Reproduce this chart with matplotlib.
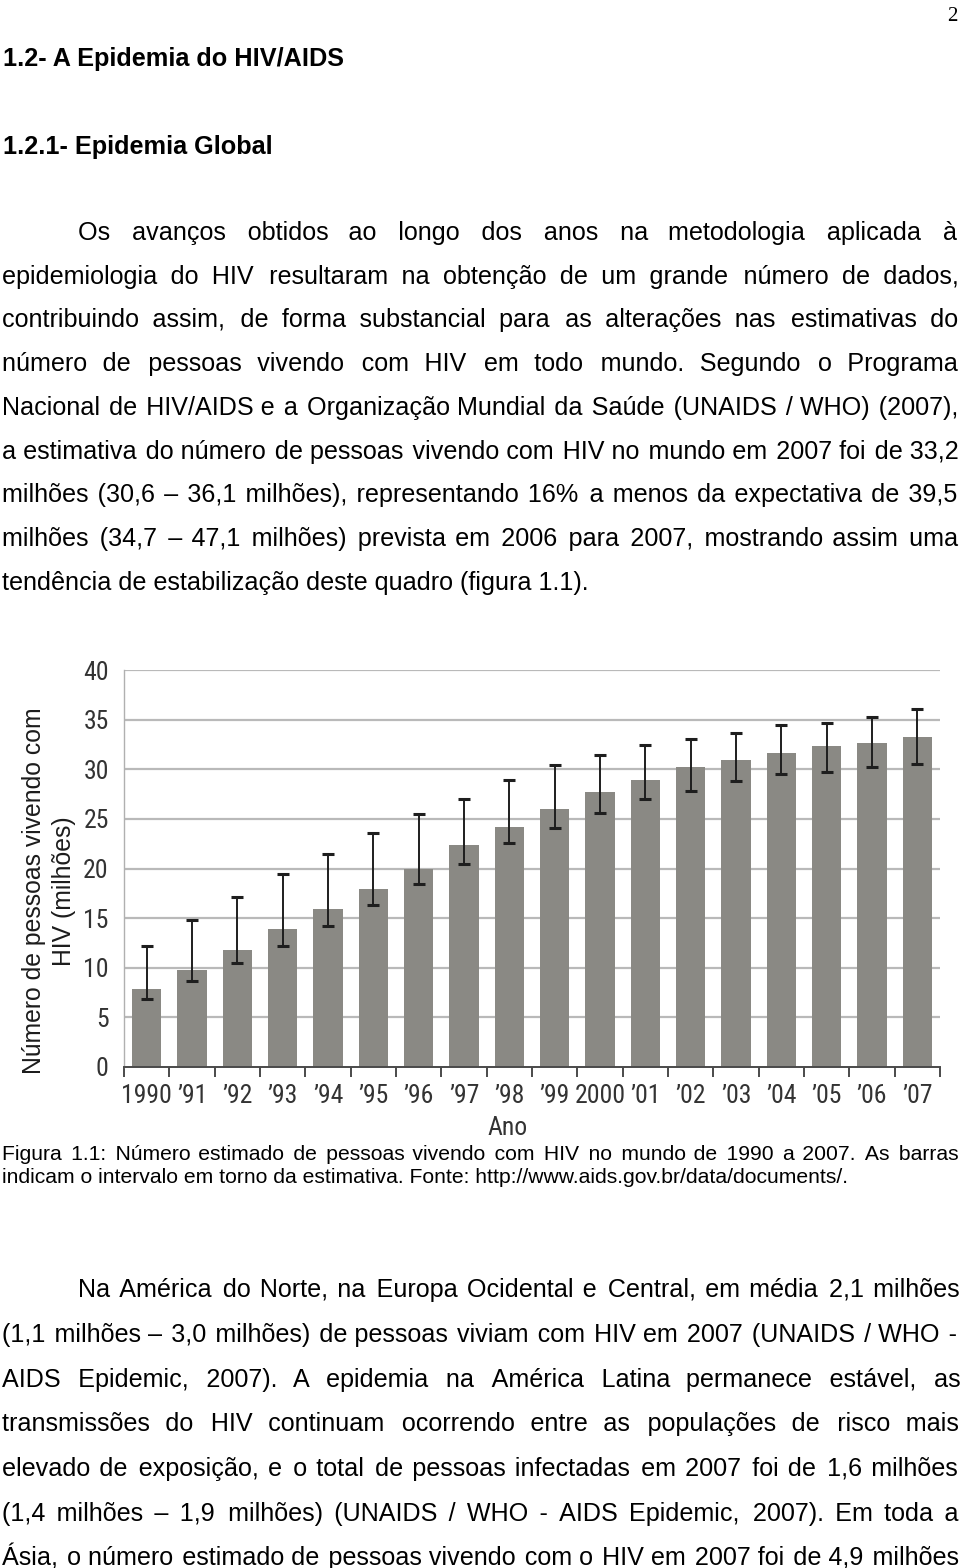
import os
import matplotlib
matplotlib.use('Agg')
import matplotlib.pyplot as plt
from matplotlib import font_manager as fm
import numpy as np

# ---------------- data ----------------
years = ['1990', '\u201991', '\u201992', '\u201993', '\u201994', '\u201995',
         '\u201996', '\u201997', '\u201998', '\u201999', '2000', '\u201901',
         '\u201902', '\u201903', '\u201904', '\u201905', '\u201906', '\u201907']
estimates = [7.85, 9.8, 11.8, 13.9, 15.9, 17.95, 20.0, 22.4, 24.2, 26.0,
             27.7, 28.9, 30.2, 30.9, 31.6, 32.3, 32.65, 33.25]
upper = [12.2, 14.85, 17.1, 19.4, 21.5, 23.6, 25.5, 27.05, 28.9, 30.4,
         31.4, 32.45, 33.0, 33.7, 34.5, 34.7, 35.3, 36.1]
lower = [6.85, 8.7, 10.5, 12.2, 14.2, 16.3, 18.4, 20.5, 22.55, 24.1,
         25.6, 27.0, 27.85, 28.8, 29.5, 29.7, 30.2, 30.5]
y_ticks = [0, 5, 10, 15, 20, 25, 30, 35, 40]

heading1 = '1.2- A Epidemia do HIV/AIDS'
heading2 = '1.2.1- Epidemia Global'
page_number = '2'
para1 = [
    'Os avanços obtidos ao longo dos anos na metodologia aplicada à',
    'epidemiologia do HIV resultaram na obtenção de um grande número de dados,',
    'contribuindo assim, de forma substancial para as alterações nas estimativas do',
    'número de pessoas vivendo com HIV em todo mundo. Segundo o Programa',
    'Nacional de HIV/AIDS e a Organização Mundial da Saúde (UNAIDS / WHO) (2007),',
    'a estimativa do número de pessoas vivendo com HIV no mundo em 2007 foi de 33,2',
    'milhões (30,6 – 36,1 milhões), representando 16% a menos da expectativa de 39,5',
    'milhões (34,7 – 47,1 milhões) prevista em 2006 para 2007, mostrando assim uma',
    'tendência de estabilização deste quadro (figura 1.1).',
]
caption = [
    'Figura 1.1: Número estimado de pessoas vivendo com HIV no mundo de 1990 a 2007. As barras',
    'indicam o intervalo em torno da estimativa. Fonte: http://www.aids.gov.br/data/documents/.',
]
para2 = [
    'Na América do Norte, na Europa Ocidental e Central, em média 2,1 milhões',
    '(1,1 milhões – 3,0 milhões) de pessoas viviam com HIV em 2007 (UNAIDS / WHO -',
    'AIDS Epidemic, 2007). A epidemia na América Latina permanece estável, as',
    'transmissões do HIV continuam ocorrendo entre as populações de risco mais',
    'elevado de exposição, e o total de pessoas infectadas em 2007 foi de 1,6 milhões',
    '(1,4 milhões – 1,9 milhões) (UNAIDS / WHO - AIDS Epidemic, 2007). Em toda a',
    'Ásia, o número estimado de pessoas vivendo com o HIV em 2007 foi de 4,9 milhões',
]
ylabel_lines = ['Número de pessoas vivendo com', 'HIV (milhões)']
xlabel = 'Ano'

# ---------------- page setup ----------------
W, H = 960, 1568
fig = plt.figure(figsize=(W / 100, H / 100), dpi=100)
fig.patch.set_facecolor('white')
renderer = fig.canvas.get_renderer()

SANS = ['Liberation Sans', 'DejaVu Sans']
SERIF = ['Liberation Serif', 'DejaVu Serif']


def pick_narrow():
    for fam in ['Liberation Sans Narrow', 'Roboto Condensed', 'DejaVu Sans',
                'Noto Sans', 'Open Sans', 'Roboto', 'Liberation Sans']:
        try:
            path = fm.findfont(fm.FontProperties(family=fam, stretch='condensed'),
                               fallback_to_default=False)
        except Exception:
            continue
        name = os.path.basename(path).lower()
        if 'narrow' in name or 'condensed' in name or 'cond' in name:
            return path
    return None


NARROW_PATH = pick_narrow()


def narrow_fp(size):
    if NARROW_PATH:
        return fm.FontProperties(fname=NARROW_PATH, size=size)
    return fm.FontProperties(family=['Roboto', 'DejaVu Sans'], size=size * 0.8)


def fx(x):
    return x / W


def fy(y):
    return 1 - y / H


def measure(s, size, **kw):
    t = fig.text(0, 0, s, fontsize=size, **kw)
    w = t.get_window_extent(renderer).width
    t.remove()
    return w


def fit_size(s, target, **kw):
    return 10 * target / measure(s, 10, **kw)


def space_unit(size, **kw):
    # smallest positive-width space glyph available, for fine justification
    base = measure('aa', size, **kw)
    best = None
    for ch in ['\u200a', '\u2009', '\u2006', '\u2005']:
        w = (measure('a' + ch * 20 + 'a', size, **kw) - base) / 20
        if w > 0.3 and (best is None or w < best[1]):
            best = (ch, w)
    return best


def justify_string(s, x0, x1, size, **kw):
    words = s.split(' ')
    if len(words) < 2:
        return s
    unit = space_unit(size, **kw)
    if unit is None:
        return s
    ch, uw = unit
    natural = measure(s, size, **kw)
    extra = (x1 - x0) - natural
    n = len(words) - 1
    N = max(0, int(round(extra / uw)))
    out = words[0]
    for i, w in enumerate(words[1:]):
        k = int(round((i + 1) * N / n)) - int(round(i * N / n))
        out += ' ' + ch * k + w
    return out


def draw_line(s, x0, x1, y, size, justify, color='black', **kw):
    if justify:
        s = justify_string(s, x0, x1, size, **kw)
    fig.text(fx(x0), fy(y), s, fontsize=size, ha='left', va='baseline',
             color=color, **kw)


# headings
hsize = fit_size(heading1, 340, family=SANS, fontweight='bold')
draw_line(heading1, 3, 343, 66, hsize, False, family=SANS, fontweight='bold')
draw_line(heading2, 3, 343, 154, hsize, False, family=SANS, fontweight='bold')

# page number
fig.text(fx(957), fy(21), page_number, fontsize=15, family=SERIF,
         ha='right', va='baseline')

# body paragraph 1
bsize = fit_size(para1[-1], 588, family=SANS)
LEFT, RIGHT, INDENT = 2, 958, 78
for i, line in enumerate(para1):
    x0 = INDENT if i == 0 else LEFT
    draw_line(line, x0, RIGHT, 240 + i * 43.7, bsize,
              i < len(para1) - 1, family=SANS)

# caption
csize = fit_size(caption[1], 850, family=SANS)
draw_line(caption[0], LEFT, RIGHT, 1160, csize, True, family=SANS)
draw_line(caption[1], LEFT, RIGHT, 1183, csize, False, family=SANS)

# body paragraph 2 (continues past page bottom -> all justified)
for i, line in enumerate(para2):
    x0 = INDENT if i == 0 else LEFT
    draw_line(line, x0, RIGHT, 1297.5 + i * 44.6, bsize, True, family=SANS)

# ---------------- chart ----------------
ax_l, ax_r, ax_t, ax_b = 124, 940, 670, 1067
ax = fig.add_axes([fx(ax_l), fy(ax_b), (ax_r - ax_l) / W, (ax_b - ax_t) / H])
ax.set_facecolor('white')

x = np.arange(len(years))
est = np.array(estimates)
yerr = [est - np.array(lower), np.array(upper) - est]

ax.bar(x, est, width=0.64, color='#8a8984', zorder=2)
ax.errorbar(x, est, yerr=yerr, fmt='none', ecolor='#1e1e1e', elinewidth=1.4,
            capsize=4.3, capthick=2.2, zorder=3)

ax.set_xlim(-0.5, len(years) - 0.5)
ax.set_ylim(0, 40)

for v in y_ticks[1:]:
    ax.axhline(v, color='#b9b9b9', lw=1.6, zorder=1)

for s in ['top', 'right']:
    ax.spines[s].set_visible(False)
ax.spines['left'].set_color('#b0b0b0')
ax.spines['left'].set_linewidth(1.0)
ax.spines['bottom'].set_color('#4a4a4a')
ax.spines['bottom'].set_linewidth(1.4)

tick_size = 18.5
tfp = narrow_fp(tick_size)
ax.set_yticks(y_ticks)
ax.set_yticklabels([str(v) for v in y_ticks], fontproperties=tfp,
                   color='#333333')
ax.tick_params(axis='y', length=0, pad=11)

ax.set_xticks(np.arange(len(years) + 1) - 0.5)
ax.set_xticklabels([''] * (len(years) + 1))
ax.tick_params(axis='x', which='major', direction='out', length=7.5,
               width=1.4, color='#4a4a4a')
ax.set_xticks(x, minor=True)
ax.set_xticklabels(years, minor=True, fontproperties=tfp, color='#333333')
ax.tick_params(axis='x', which='minor', length=0, pad=12)

fig.text(fx(508), fy(1128), xlabel, fontproperties=narrow_fp(tick_size),
         color='#333333', ha='center', va='center')

# y label (two rotated lines)
ysize = fit_size(ylabel_lines[0], 368, family=SANS)
fig.text(fx(34), fy(891), ylabel_lines[0], family=SANS,
         fontsize=ysize, rotation=90, ha='center', va='center', color='#1c1c1c')
fig.text(fx(64), fy(891), ylabel_lines[1], family=SANS,
         fontsize=ysize, rotation=90, ha='center', va='center', color='#1c1c1c')

fig.savefig('out.png', dpi=100, facecolor='white')
